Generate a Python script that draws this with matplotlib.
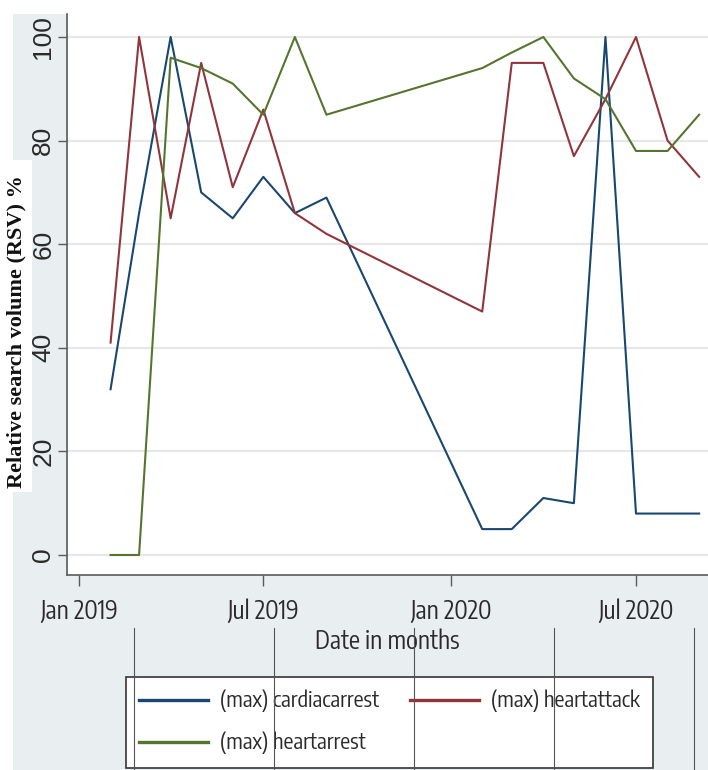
import matplotlib
matplotlib.use("Agg")
import matplotlib.pyplot as plt
import matplotlib.dates as mdates
from matplotlib import font_manager
from matplotlib.font_manager import FontProperties
from matplotlib.textpath import TextPath
from matplotlib.patches import Rectangle
from matplotlib.lines import Line2D
import datetime as dt

# ---------------- data ----------------
months = ['2019-02', '2019-03', '2019-04', '2019-05', '2019-06', '2019-07', '2019-08', '2019-09',
          '2020-02', '2020-03', '2020-04', '2020-05', '2020-06', '2020-07', '2020-08', '2020-09']
cardiacarrest = [32, 66, 100, 70, 65, 73, 66, 69, 5, 5, 11, 10, 100, 8, 8, 8]
heartattack = [41, 100, 65, 95, 71, 86, 66, 62, 47, 95, 95, 77, 88, 100, 80, 73]
heartarrest = [0, 0, 96, 94, 91, 85, 100, 85, 94, 97, 100, 92, 88, 78, 78, 85]
series_labels = ['(max) cardiacarrest', '(max) heartattack', '(max) heartarrest']
y_ticks = [0, 20, 40, 60, 80, 100]
x_tick_dates = ['2019-01-01', '2019-07-01', '2020-01-01', '2020-07-01']
x_tick_labels = ['Jan 2019', 'Jul 2019', 'Jan 2020', 'Jul 2020']
y_label = 'Relative search volume (RSV) %'
x_label = 'Date in months'

# ---------------- fonts ----------------
# the reference text is a horizontally squeezed Arial: "Jul 2020" is ~70 px wide
# with a cap height of ~20 px (ratio ~3.5); pick the closest narrow grotesque.
names = {f.name for f in font_manager.fontManager.ttflist}
candidates = ['Liberation Sans Narrow', 'Arial Narrow', 'Roboto Condensed', 'Archivo Narrow',
              'Fira Sans Condensed', 'Fira Sans Extra Condensed', 'IBM Plex Sans Condensed',
              'Barlow Condensed', 'Barlow Semi Condensed', 'PT Sans Narrow',
              'Encode Sans Condensed', 'Asap Condensed', 'Liberation Sans']
target_ratio = 70.0 / 20.0
best = None
for cand in candidates:
    if cand not in names:
        continue
    try:
        fp = FontProperties(family=cand, weight='normal', style='normal')
        font_manager.findfont(fp, fallback_to_default=False)
        ext = TextPath((0, 0), 'Jul 2020', size=100, prop=fp).get_extents()
        ratio = (ext.x1 - ext.x0) / ext.y1
        score = abs(ratio - target_ratio)
        if best is None or score < best[0] - 0.05:
            best = (score, cand, ext.y1 / 100.0)
    except Exception:
        continue
if best is None:
    best = (0, 'DejaVu Sans', 0.73)
cond_name, cap_frac = best[1], best[2]
cond_family = [cond_name, 'Liberation Sans', 'DejaVu Sans']
cond_size = (20.0 / cap_frac) * 0.72  # cap height 20 px at 100 dpi
reg_family = ['Liberation Sans', 'DejaVu Sans']
serif_family = ['Liberation Serif', 'DejaVu Serif']

colors = ['#1a476f', '#90353b', '#55752f']
W, H = 708, 770
fig = plt.figure(figsize=(W / 100, H / 100), dpi=100, facecolor='#e9eef1')
renderer = fig.canvas.get_renderer()

# legend text: "(max) cardiacarrest" is ~160 px wide in the reference
probe = fig.text(0, 0, '(max) cardiacarrest', family=cond_family, fontsize=cond_size)
pw = probe.get_window_extent(renderer).width
probe.remove()
leg_size = min(cond_size, cond_size * 160.0 / pw)
probe = fig.text(0, 0, '(max) cardiacarrest', family=cond_family, fontsize=leg_size)
leg_text_h = probe.get_window_extent(renderer).height
probe.remove()
fs_px = leg_size * 100 / 72.0


def fx(px):
    return px / W


def fy(py):
    return 1 - py / H


# white areas of the screenshot background
fig.add_artist(Rectangle((0, fy(14)), 1, 14 / H, transform=fig.transFigure,
                         facecolor='white', edgecolor='none', zorder=0))
fig.add_artist(Rectangle((0, 0), fx(13), 1, transform=fig.transFigure,
                         facecolor='white', edgecolor='none', zorder=0))
fig.add_artist(Rectangle((0, fy(492)), fx(32), (492 - 160) / H, transform=fig.transFigure,
                         facecolor='white', edgecolor='none', zorder=0))

ax_l, ax_r, ax_t, ax_b = 67, 708, 14, 575
ax = fig.add_axes([fx(ax_l), fy(ax_b), fx(ax_r - ax_l), (ax_b - ax_t) / H])
ax.set_facecolor('white')

dates = [dt.datetime.strptime(m, '%Y-%m') for m in months]
for vals, c, lab in zip([cardiacarrest, heartattack, heartarrest], colors, series_labels):
    ax.plot(dates, vals, color=c, lw=1.5, label=lab, zorder=3)

# scales
px_per_unit = (555 - 37) / 100.0
ax.set_ylim(-(ax_b - 555) / px_per_unit, (555 - ax_t) / px_per_unit)
jan19 = mdates.date2num(dt.datetime(2019, 1, 1))
jul20 = mdates.date2num(dt.datetime(2020, 7, 1))
px_per_day = (636 - 79) / (jul20 - jan19)
ax.set_xlim(jan19 - (79 - ax_l) / px_per_day, jan19 + (ax_r - 79) / px_per_day)

ax.set_yticks(y_ticks)
ax.set_yticklabels([str(v) for v in y_ticks], rotation=90, va='center',
                   family=reg_family, fontsize=19, color='#2a2a2a')
ax.set_xticks([mdates.date2num(dt.datetime.strptime(d, '%Y-%m-%d')) for d in x_tick_dates])
ax.set_xticklabels(x_tick_labels, family=cond_family, fontsize=cond_size, color='#2a2a2a')

ax.grid(axis='y', color='#e6e8e8', lw=1.6, zorder=0)
ax.grid(axis='x', visible=False)
for s in ['top', 'right']:
    ax.spines[s].set_visible(False)
for s in ['left', 'bottom']:
    ax.spines[s].set_color('#5a5a5a')
    ax.spines[s].set_linewidth(1.2)
ax.tick_params(axis='y', direction='out', length=6.5, width=1.0, color='#5a5a5a', pad=2.0)
ax.tick_params(axis='x', direction='out', length=8, width=1.0, color='#5a5a5a', pad=9)

# axis titles
fig.text(fx(16), fy(332), y_label, rotation=90, ha='center', va='center',
         family=serif_family, fontweight='bold', fontsize=16, color='#111111')
fig.text(fx(387), fy(642), x_label, ha='center', va='center',
         family=cond_family, fontsize=cond_size, color='#2a2a2a')

# legend
handles, labels = ax.get_legend_handles_labels()
order = [0, 2, 1]
pad_px = 13.0
leg = fig.legend([handles[i] for i in order], [labels[i] for i in order], ncol=2,
                 loc='upper left', bbox_to_anchor=(fx(126), fy(677)),
                 bbox_transform=fig.transFigure, borderaxespad=0,
                 prop={'family': cond_family, 'size': leg_size},
                 frameon=True, fancybox=False, edgecolor='#333333', facecolor='white',
                 framealpha=1, handlelength=69 / fs_px, handletextpad=12 / fs_px,
                 columnspacing=31 / fs_px, borderpad=pad_px / fs_px,
                 labelspacing=max(42 - leg_text_h, 2) / fs_px)
leg.get_frame().set_linewidth(1.2)
for t in leg.get_texts():
    t.set_color('#2a2a2a')
for ln in leg.get_lines():
    ln.set_linewidth(2.4)

# overlay vertical rules of the page table
for xv in [134, 274, 414, 554, 694]:
    fig.add_artist(Line2D([fx(xv), fx(xv)], [fy(628), 0], transform=fig.transFigure,
                          color='#555555', lw=0.8, zorder=10))

fig.savefig('out.png', dpi=100, facecolor=fig.get_facecolor())
